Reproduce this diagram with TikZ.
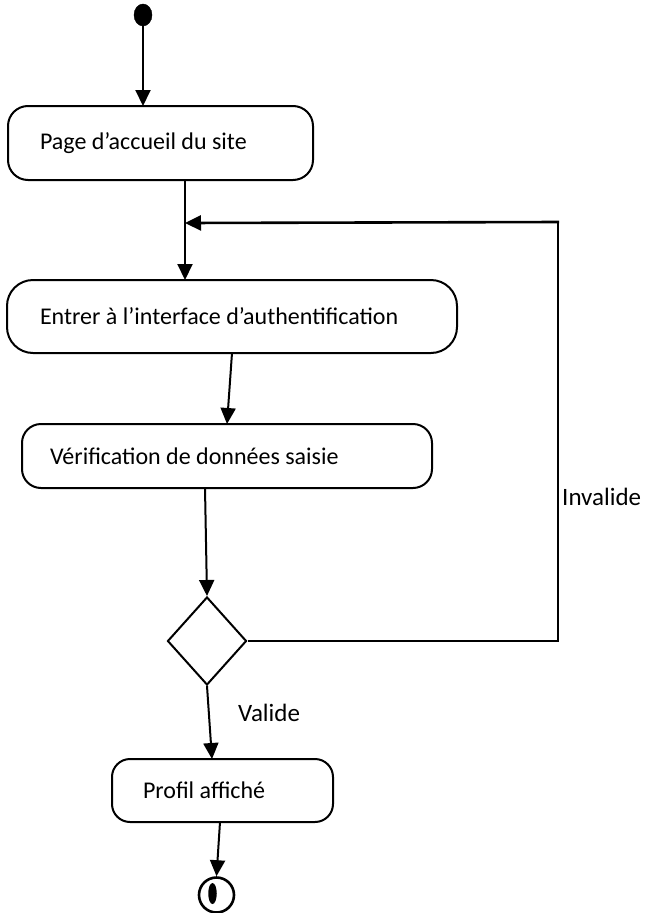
\documentclass[tikz,border=0pt]{standalone}
\usepackage{fontspec}
\setmainfont{Carlito}
\usetikzlibrary{arrows.meta,shapes.geometric}
\begin{document}
\begin{tikzpicture}[x=1pt,y=-1pt,
  every node/.style={font=\fontsize{24}{27}\selectfont},
  actbox/.style={draw,line width=2pt,rectangle,align=flush left,anchor=center},
  flow/.style={line width=2pt,-{Triangle[width=15pt,length=16pt]}},
  thin/.style={line width=1.6pt},
  lbl/.style={font=\fontsize{25}{28}\selectfont,inner sep=0pt}]
\useasboundingbox (0,0) rectangle (646,913);
% initial state
\node[draw,fill=black,ellipse,minimum width=18pt,minimum height=22pt,inner sep=0pt] (init) at (143,15) {};
% activities
\node[actbox,rounded corners=20pt,minimum width=305pt,minimum height=74pt,text width=241pt] (b1) at (160.5,143) {Page d’accueil du site};
\node[actbox,rounded corners=26pt,minimum width=450pt,minimum height=73pt,text width=384pt] (b2) at (232,316.5) {Entrer à l’interface d’authentification};
\node[actbox,rounded corners=19pt,minimum width=410pt,minimum height=64pt,text width=354pt] (b3) at (227,456) {Vérification de données saisie};
\node[actbox,rounded corners=18pt,minimum width=221pt,minimum height=63pt,text width=159pt] (b4) at (222.5,790.5) {Profil affiché};
% decision
\node[draw,line width=2pt,diamond,minimum width=79pt,minimum height=88pt,inner sep=0pt] (dec) at (207,641) {};
% final state
\node[draw,circle,line width=2.6pt,minimum size=35pt,inner sep=0pt] (fin) at (216.5,895) {};
\node[fill=black,ellipse,minimum width=8.5pt,minimum height=21pt,inner sep=0pt] (finin) at (212.5,893.5) {};
% junction points
\coordinate (j1) at (185,223);
\coordinate (c1) at (558,222);
\coordinate (c2) at (558,641);
% connectors
\draw[flow] (init.south) -- (143,106);
\draw[line width=2pt] (185,180) -- (j1);
\draw[flow] (j1) -- (185,280);
\draw[flow] (232,353) -- (227,424);
\draw[flow] (205,488) -- (dec.north);
\draw[flow] (dec.south) -- (212,759);
\draw[flow] (220,822) -- (fin.north);
\draw[thin] (dec.east) -- (c2) -- (c1);
\draw[line width=2.6pt,-{Triangle[width=15pt,length=16pt]}] (559,222) -- (j1);
% labels
\node[lbl,anchor=west] (inv) at (562,497) {Invalide};
\node[lbl,anchor=west] (val) at (238,713) {Valide};
\end{tikzpicture}
\end{document}
